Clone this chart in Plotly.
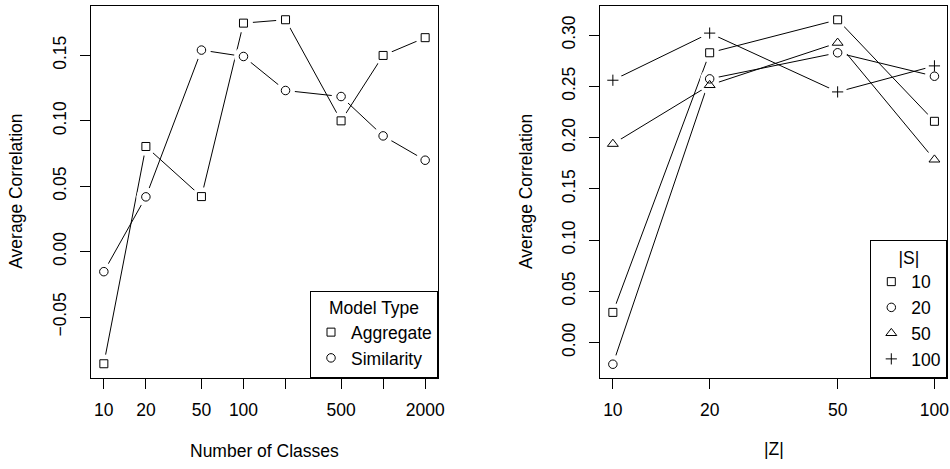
import plotly.graph_objects as go

# ---------------- data ----------------
classes = [10, 20, 50, 100, 200, 500, 1000, 2000]
aggregate = [-0.0857, 0.0804, 0.0421, 0.1747, 0.1773, 0.1000, 0.1500, 0.1636]
similarity = [-0.0153, 0.0419, 0.1541, 0.1492, 0.1232, 0.1186, 0.0885, 0.0699]

z_sizes = [10, 20, 50, 100]
s10 = [0.0294, 0.2828, 0.3150, 0.2159]
s20 = [-0.0212, 0.2573, 0.2828, 0.2599]
s50 = [0.1938, 0.2512, 0.2925, 0.1785]
s100 = [0.2560, 0.3020, 0.2446, 0.2700]

left_xticks = [10, 20, 50, 100, 200, 500, 1000, 2000]
left_xticktext = ["10", "20", "50", "100", "", "500", "", "2000"]
left_yticks = [-0.05, 0.0, 0.05, 0.10, 0.15]
left_yticktext = ["\u22120.05", "0.00", "0.05", "0.10", "0.15"]
right_xticks = [10, 20, 50, 100]
right_xticktext = ["10", "20", "50", "100"]
right_yticks = [0.0, 0.05, 0.10, 0.15, 0.20, 0.25, 0.30]
right_yticktext = ["0.00", "0.05", "0.10", "0.15", "0.20", "0.25", "0.30"]

left_series = [("Aggregate", aggregate, "square-open", 8),
               ("Similarity", similarity, "circle-open", 8.5)]
right_series = [("10", s10, "square-open", 8),
                ("20", s20, "circle-open", 8.5),
                ("50", s50, "triangle-up-open", 9.5),
                ("100", s100, "cross-thin-open", 8)]

W, H = 950, 469
FONT = "Liberation Sans, Arial, Helvetica, sans-serif"
FS = 17.5
MASK = 19

fig = go.Figure()

def add_panel(xs, series, xa, ya, legend):
    # connecting lines
    for name, ys, sym, sz in series:
        fig.add_trace(go.Scatter(x=xs, y=ys, mode="lines", xaxis=xa, yaxis=ya,
                                 line=dict(color="black", width=1),
                                 showlegend=False, hoverinfo="skip"))
    # white masks to create the R type="b" gaps around points
    for name, ys, sym, sz in series:
        fig.add_trace(go.Scatter(x=xs, y=ys, mode="markers", xaxis=xa, yaxis=ya,
                                 marker=dict(symbol="circle", size=MASK, color="white",
                                             line=dict(width=0)),
                                 showlegend=False, hoverinfo="skip"))
    # point symbols
    for name, ys, sym, sz in series:
        fig.add_trace(go.Scatter(x=xs, y=ys, mode="markers", xaxis=xa, yaxis=ya,
                                 name=name, legend=legend,
                                 marker=dict(symbol=sym, size=sz, color="black",
                                             line=dict(width=1, color="black"))))

add_panel(classes, left_series, "x", "y", "legend")
add_panel(z_sizes, right_series, "x2", "y2", "legend2")

lx0, lx1 = 91 / W, 438 / W
rx0, rx1 = 600 / W, 947.3 / W
ly0, ly1 = 1 - 377.5 / H, 1 - 6 / H
ry0, ry1 = 1 - 378 / H, 1 - 6 / H

axis_common = dict(showline=True, mirror=True, linecolor="black", linewidth=1,
                   showgrid=False, zeroline=False, ticks="outside", ticklen=10,
                   tickwidth=1, tickcolor="black",
                   tickfont=dict(family=FONT, size=FS, color="black"),
                   automargin=False, fixedrange=True)

fig.update_layout(
    width=W, height=H,
    margin=dict(l=0, r=0, t=0, b=0),
    paper_bgcolor="white", plot_bgcolor="white",
    font=dict(family=FONT, size=FS, color="black"),
    xaxis=dict(axis_common, type="log", domain=[lx0, lx1], range=[0.908, 3.393],
               tickmode="array", tickvals=left_xticks, ticktext=left_xticktext,
               anchor="y", ticklabelstandoff=6),
    yaxis=dict(axis_common, domain=[ly0, ly1], range=[-0.0962, 0.1878],
               tickmode="array", tickvals=left_yticks, ticktext=left_yticktext,
               anchor="x", tickangle=-90, ticklabelstandoff=7),
    xaxis2=dict(axis_common, type="log", domain=[rx0, rx1], range=[0.96, 2.04],
                tickmode="array", tickvals=right_xticks, ticktext=right_xticktext,
                anchor="y2", ticklabelstandoff=6),
    yaxis2=dict(axis_common, domain=[ry0, ry1], range=[-0.03465, 0.32845],
                tickmode="array", tickvals=right_yticks, ticktext=right_yticktext,
                anchor="x2", tickangle=-90, ticklabelstandoff=7),
    legend=dict(x=lx1, xanchor="right", y=ly0, yanchor="bottom",
                bordercolor="black", borderwidth=1, bgcolor="white",
                title=dict(text="Model Type", side="top center",
                           font=dict(family=FONT, size=FS, color="black")),
                font=dict(family=FONT, size=FS, color="black"),
                itemwidth=30, tracegroupgap=0),
    legend2=dict(x=rx1, xanchor="right", y=ry0, yanchor="bottom",
                 bordercolor="black", borderwidth=1, bgcolor="white",
                 title=dict(text="|S|", side="top center",
                            font=dict(family=FONT, size=FS, color="black")),
                 font=dict(family=FONT, size=FS, color="black"),
                 itemwidth=30, tracegroupgap=0),
    showlegend=True,
)

# axis titles
title_font = dict(family=FONT, size=FS, color="black")
fig.add_annotation(text="Number of Classes", xref="paper", yref="paper",
                   x=(lx0 + lx1) / 2, y=1 - 451 / H, showarrow=False,
                   xanchor="center", yanchor="middle", font=title_font)
fig.add_annotation(text="|Z|", xref="paper", yref="paper",
                   x=(rx0 + rx1) / 2, y=1 - 449 / H, showarrow=False,
                   xanchor="center", yanchor="middle", font=title_font)
fig.add_annotation(text="Average Correlation", xref="paper", yref="paper",
                   x=16 / W, y=(ly0 + ly1) / 2, showarrow=False, textangle=-90,
                   xanchor="center", yanchor="middle", font=title_font)
fig.add_annotation(text="Average Correlation", xref="paper", yref="paper",
                   x=526 / W, y=(ry0 + ry1) / 2, showarrow=False, textangle=-90,
                   xanchor="center", yanchor="middle", font=title_font)

# remove the browser's default 8px page margin so the figure fills the window
fig.write_html("out.html", config={"displayModeBar": False},
               post_script="document.body.style.margin='0px';")
